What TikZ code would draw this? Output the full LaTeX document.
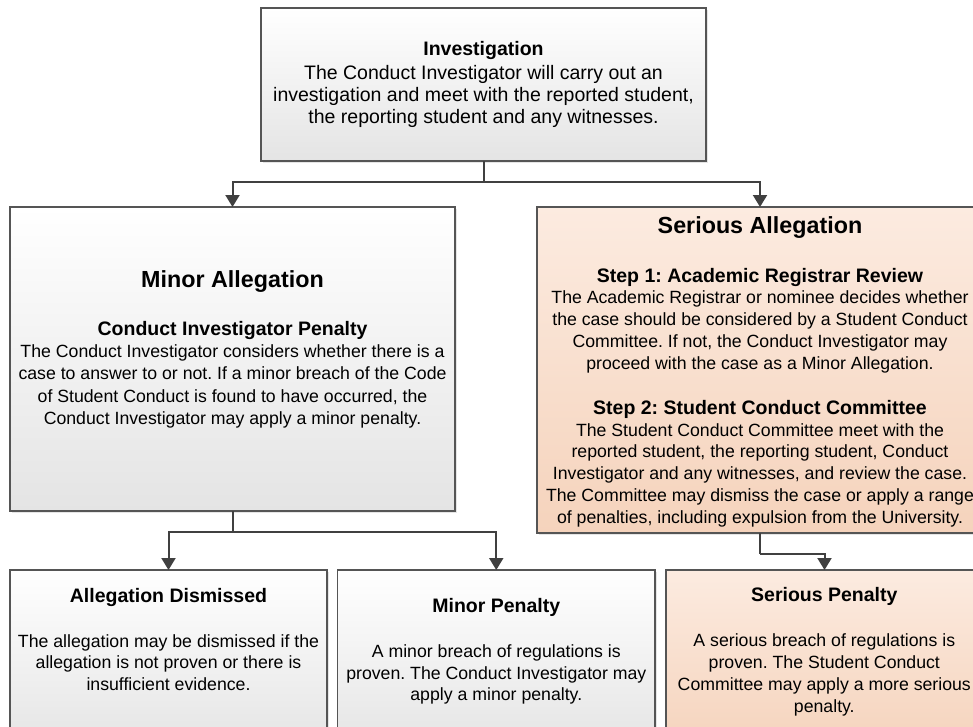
\documentclass[tikz,border=0pt]{standalone}
\usepackage{fontspec}
\setmainfont{Liberation Sans}
\usetikzlibrary{arrows.meta,shadows}
\definecolor{edgecol}{HTML}{555555}
\definecolor{linkcol}{HTML}{404040}
\definecolor{greybot}{HTML}{E4E4E4}
\definecolor{peachtop}{HTML}{FCEBE0}
\definecolor{peachbot}{HTML}{F5D3BC}
\frenchspacing
\newcommand{\subhead}{\fontsize{19.5}{22}\selectfont\bfseries}

\tikzset{
  box/.style={draw=edgecol, line width=1.5pt, inner sep=0pt, outer sep=0pt,
    anchor=north west, top color=white, bottom color=greybot,
    drop shadow={shadow xshift=2pt, shadow yshift=-2pt, fill=black!20}},
  sbox/.style={box, top color=peachtop, bottom color=peachbot},
  txt/.style={align=center, inner sep=0pt, font=\fontsize{17.7}{21.8}\selectfont},
  bigtxt/.style={txt, font=\fontsize{19.5}{22}\selectfont},
  head/.style={inner sep=0pt, font=\fontsize{23.3}{26}\selectfont\bfseries},
  link/.style={draw=linkcol, line width=2pt},
  tip/.style={-{Triangle[width=14pt,length=12pt]}}
}

\begin{document}
\begin{tikzpicture}[x=1pt,y=-1pt]
          \useasboundingbox (0,0) rectangle (973,726);
          \clip (0,0) rectangle (973,726);
          % boxes
          \node (inv) at (261,8) [box, minimum width=445pt, minimum height=153pt] {};
          \node (minor) at (10,207) [box, minimum width=445pt, minimum height=304pt] {};
          \node (serious) at (537,207) [sbox, minimum width=446pt, minimum height=326pt] {};
          \node (dismissed) at (10,570) [box, minimum width=317pt, minimum height=180pt] {};
          \node (minorpen) at (337.5,570) [box, minimum width=317.5pt, minimum height=180pt] {};
          \node (seriouspen) at (666,570) [sbox, minimum width=317pt, minimum height=180pt] {};
          % texts
          \node (invtxt) at (483.5,84.5) [bigtxt] {\textbf{Investigation}\\[2pt]
            The Conduct Investigator will carry out an\\
            investigation and meet with the reported student,\\
            the reporting student and any witnesses.};
          \node (minorhead) at (232.5,281.5) [head] {Minor Allegation};
          \node (minortxt) at (232.5,374.5) [txt, font=\fontsize{17.7}{22.3}\selectfont] {{\subhead Conduct Investigator Penalty}\\
            The Conduct Investigator considers whether there is a\\
            case to answer to or not. If a minor breach of the Code\\
            of Student Conduct is found to have occurred, the\\
            Conduct Investigator may apply a minor penalty.};
          \node (serioushead) at (760,227.5) [head] {Serious Allegation};
          \node (stepone) at (760,320.5) [txt] {{\subhead Step 1: Academic Registrar Review}\\
            The Academic Registrar or nominee decides whether\\
            the case should be considered by a Student Conduct\\
            Committee. If not, the Conduct Investigator may\\
            proceed with the case as a Minor Allegation.};
          \node (steptwo) at (760,463.5) [txt] {{\subhead Step 2: Student Conduct Committee}\\
            The Student Conduct Committee meet with the\\
            reported student, the reporting student, Conduct\\
            Investigator and any witnesses, and review the case.\\
            The Committee may dismiss the case or apply a range\\
            of penalties, including expulsion from the University.};
          \node (dismissedhead) at (168.5,597) [txt] {\subhead Allegation Dismissed};
          \node (dismissedtxt) at (168.5,662.5) [txt] {The allegation may be dismissed if the\\
            allegation is not proven or there is\\
            insufficient evidence.};
          \node (minorpenhead) at (496.3,607) [txt] {\subhead Minor Penalty};
          \node (minorpentxt) at (496.3,674.5) [txt] {A minor breach of regulations is\\
            proven. The Conduct Investigator may\\
            apply a minor penalty.};
          \node (seriouspenhead) at (824.3,596) [txt] {\subhead Serious Penalty};
          \node (seriouspentxt) at (824.3,675) [txt] {A serious breach of regulations is\\
            proven. The Student Conduct\\
            Committee may apply a more serious\\
            penalty.};
          % connectors
          \coordinate (fork) at (483.5,181.5);
          \coordinate (forktwo) at (232.5,532);
          \coordinate (bend) at (760,554);
          \draw[link] (inv.south) -- (fork);
          \draw[link,tip] (fork) -| (minor.north);
          \draw[link,tip] (fork) -| (serious.north);
          \draw[link] (minor.south) -- (forktwo);
          \draw[link,tip] (forktwo) -| (dismissed.north);
          \draw[link,tip] (forktwo) -| (minorpen.north);
          \draw[link] (serious.south) -- (bend);
          \draw[link,tip] (bend) -| (seriouspen.north);
        \end{tikzpicture}
\end{document}
